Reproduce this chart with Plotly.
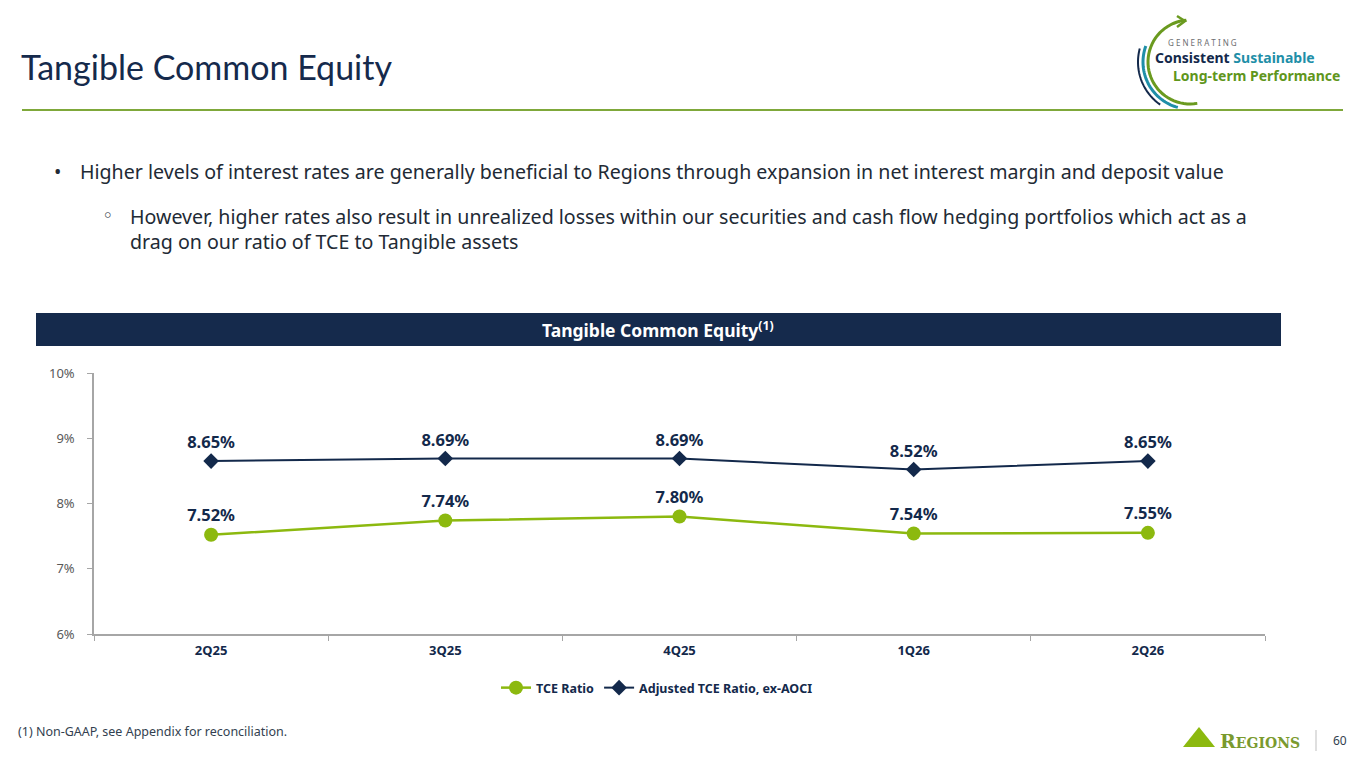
import math
import plotly.graph_objects as go

# chart data
quarters = ["2Q25", "3Q25", "4Q25", "1Q26", "2Q26"]
tce_ratio = [7.52, 7.74, 7.80, 7.54, 7.55]
adj_tce_ratio = [8.65, 8.69, 8.69, 8.52, 8.65]
y_ticks = [6, 7, 8, 9, 10]
y_tick_labels = ["6%", "7%", "8%", "9%", "10%"]

NAVY = "#13294b"
GREEN = "#8cb90f"
W, H = 1365, 768
# the page body adds an 8px margin around the figure, so place things 8px up-left
OFF = 8


def px(x):
    return (x - OFF) / W


def py(y):
    return 1 - (y - OFF) / H


fig = go.Figure()
fig.add_trace(go.Scatter(
    x=quarters, y=tce_ratio, name="TCE Ratio", mode="lines+markers+text",
    line=dict(color=GREEN, width=2.5), marker=dict(symbol="circle", size=14, color=GREEN),
    text=[f"{v:.2f}%" for v in tce_ratio], textposition="top center",
    textfont=dict(family="Noto Sans", size=16.5, color=NAVY, weight="bold"),
    cliponaxis=False,
))
fig.add_trace(go.Scatter(
    x=quarters, y=adj_tce_ratio, name="Adjusted TCE Ratio, ex-AOCI", mode="lines+markers+text",
    line=dict(color=NAVY, width=2), marker=dict(symbol="diamond", size=12, color=NAVY),
    text=[f"{v:.2f}%" for v in adj_tce_ratio], textposition="top center",
    textfont=dict(family="Noto Sans", size=16.5, color=NAVY, weight="bold"),
    cliponaxis=False,
))

fig.update_xaxes(
    domain=[px(94), px(1265)], range=[-0.5, 4.5], showline=True, linecolor="#a6a6a6", linewidth=1.5,
    ticks="outside", tickson="boundaries", ticklen=5, tickcolor="#a6a6a6",
    tickfont=dict(family="Noto Sans", size=13, color=NAVY, weight="bold"), ticklabelstandoff=4,
    showgrid=False, zeroline=False, automargin=False,
)
fig.update_yaxes(
    domain=[py(634), py(373)], range=[6, 10], tickvals=y_ticks, ticktext=y_tick_labels,
    showline=True, linecolor="#a6a6a6", linewidth=1.5, ticks="outside", ticklen=5,
    tickcolor="#a6a6a6", tickfont=dict(family="Noto Sans", size=13, color="#595959"),
    ticklabelstandoff=10, showgrid=False, zeroline=False, automargin=False,
)

shapes = []
annotations = []

# title and rule
annotations.append(dict(x=px(19), y=py(67), xanchor="left", text="Tangible Common Equity",
                        font=dict(family="Lato", size=34, color="#152a4c")))
shapes.append(dict(type="line", xref="paper", yref="paper", x0=px(22), x1=px(1343), y0=py(110), y1=py(110),
                   line=dict(color="#7fa83a", width=2)))

# bullets
body_font = dict(family="Noto Sans", size=19.6, color="#222a35")
annotations += [
    dict(x=px(52), y=py(172), text="•", xanchor="left", font=body_font),
    dict(x=px(78), y=py(172), xanchor="left", font=body_font,
         text="Higher levels of interest rates are generally beneficial to Regions through expansion in net interest margin and deposit value"),
    dict(x=px(100), y=py(215), text="◦", xanchor="left", font=dict(family="DejaVu Sans", size=19, color="#222a35")),
    dict(x=px(128), y=py(228.5), xanchor="left", align="left", font=body_font,
         text="However, higher rates also result in unrealized losses within our securities and cash flow hedging portfolios which act as a"
              "<br>drag on our ratio of TCE to Tangible assets"),
]

# chart header bar
shapes.append(dict(type="rect", xref="paper", yref="paper", x0=px(36), x1=px(1281), y0=py(346), y1=py(313),
                   fillcolor="#152a4c", line=dict(width=0), layer="below"))
annotations.append(dict(x=px(658), y=py(330), xanchor="center",
                        text="<b>Tangible Common Equity<sup>(1)</sup></b>",
                        font=dict(family="Noto Sans", size=17.5, color="white")))

# footnote and footer
annotations += [
    dict(x=px(16), y=py(731), xanchor="left", text="(1) Non-GAAP, see Appendix for reconciliation.",
         font=dict(family="Noto Sans", size=12.5, color="#333f50")),
    dict(x=px(1340), y=py(740), xanchor="center", text="60",
         font=dict(family="Noto Sans", size=12, color="#333f50")),
    dict(x=px(1218), y=py(741), xanchor="left",
         text="R<span style='font-size:14px'>EGIONS</span>",
         font=dict(family="DejaVu Serif", size=19, color="#7a9a2e", weight="bold")),
]
shapes.append(dict(type="line", xref="paper", yref="paper", x0=px(1316), x1=px(1316), y0=py(730), y1=py(751),
                   line=dict(color="#bfbfbf", width=1)))
shapes.append(dict(type="path", xref="paper", yref="paper",
                   path=f"M {px(1183)},{py(747)} L {px(1199)},{py(727)} L {px(1215)},{py(747)} Z",
                   fillcolor="#8cb90f", line=dict(width=0)))


# top-right logo arcs
def arc(cx, cy, r, a0, a1, n=40):
    pts = []
    for i in range(n + 1):
        a = math.radians(a0 + (a1 - a0) * i / n)
        pts.append((px(cx + r * math.cos(a)), py(cy - r * math.sin(a))))
    return "M " + " L ".join(f"{x},{y}" for x, y in pts)


shapes += [
    dict(type="path", xref="paper", yref="paper", path=arc(1190, 62, 42, 95, 280),
         line=dict(color="#6a9a1f", width=3)),
    dict(type="path", xref="paper", yref="paper", path=arc(1190, 62, 47, 160, 255),
         line=dict(color="#1f8fa8", width=3)),
    dict(type="path", xref="paper", yref="paper", path=arc(1190, 62, 52, 165, 235),
         line=dict(color="#13294b", width=2)),
    dict(type="path", xref="paper", yref="paper",
         path=f"M {px(1177)},{py(16)} L {px(1185)},{py(21)} L {px(1177)},{py(27)}",
         line=dict(color="#6a9a1f", width=2.5)),
]
annotations += [
    dict(x=px(1166), y=py(42), xanchor="left", text="G E N E R A T I N G",
         font=dict(family="Noto Sans", size=8, color="#6d6e71")),
    dict(x=px(1153), y=py(58), xanchor="left",
         text="<b><span style='color:#13294b'>Consistent</span> <span style='color:#1f8fa8'>Sustainable</span></b>",
         font=dict(family="Noto Sans", size=14)),
    dict(x=px(1171), y=py(76), xanchor="left", text="<b>Long-term Performance</b>",
         font=dict(family="Noto Sans", size=14, color="#5f961c")),
]

for a in annotations:
    a.setdefault("xref", "paper")
    a.setdefault("yref", "paper")
    a.setdefault("showarrow", False)
    a.setdefault("yanchor", "middle")

fig.update_layout(
    width=W, height=H, margin=dict(l=0, r=0, t=0, b=0, autoexpand=False),
    paper_bgcolor="white", plot_bgcolor="white",
    shapes=shapes, annotations=annotations,
    showlegend=True,
    legend=dict(orientation="h", x=px(657), xanchor="center", y=py(688), yanchor="middle",
                font=dict(family="Noto Sans", size=12.5, color=NAVY, weight="bold"),
                itemwidth=30),
)

fig.write_html("out.html")
